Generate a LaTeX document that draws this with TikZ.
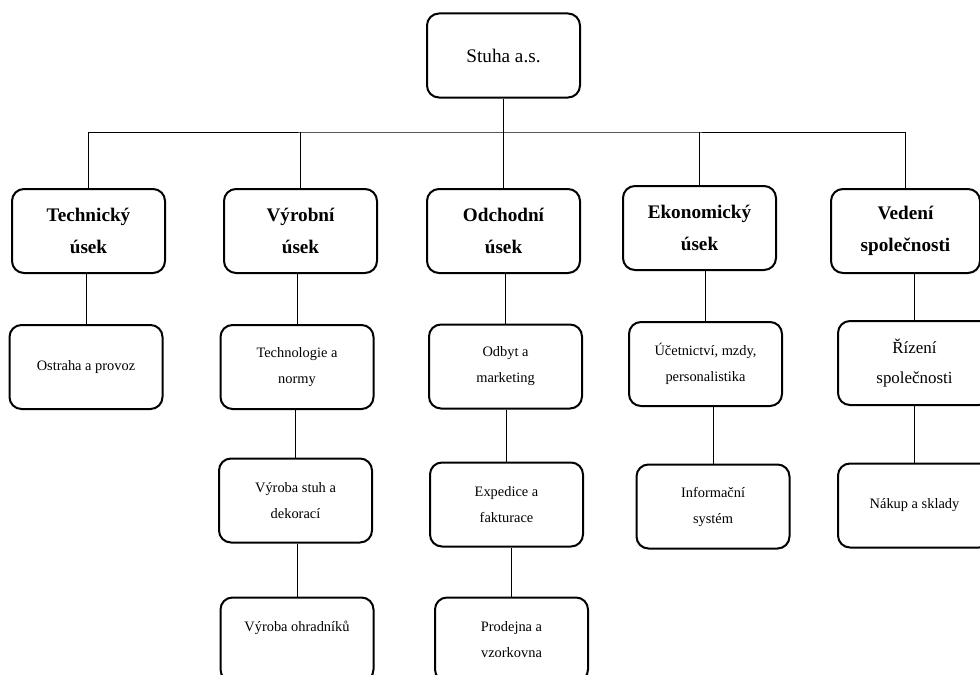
\documentclass[tikz,border=0pt]{standalone}
\usepackage{fontspec}
\setmainfont{Liberation Serif}
\usepackage{tikz}
\newcommand{\smalltext}{\fontsize{10.8}{19.5}\selectfont}
\newcommand{\midtext}{\fontsize{12.7}{22.5}\selectfont}
\newcommand{\bigtext}{\fontsize{14.4}{24}\selectfont}

\begin{document}
\begin{tikzpicture}[x=0.75pt,y=-0.75pt,
    unit/.style={draw,line width=1.5pt,rounded corners=9pt,align=center,
        minimum width=114.75pt,minimum height=63pt,inner sep=2pt},
    dept/.style={unit,font=\bigtext\bfseries},
    office/.style={unit,font=\smalltext},
    link/.style={line width=0.7pt}]
    % page size
    \useasboundingbox (0,0) rectangle (980,674);
    \clip (0,0) rectangle (980,674);

    % draw top box
    \node[unit,font=\bigtext] (stuha) at (503.5,55.5) {Stuha a.s.};

    % draw departments
    \node[dept] (tech) at (88.5,231) {Technický\\úsek};
    \node[dept] (vyr) at (300.5,231) {Výrobní\\úsek};
    \node[dept] (odch) at (503.5,231) {Odchodní\\úsek};
    \node[dept] (ekon) at (699.5,228) {Ekonomický\\úsek};
    \node[dept,minimum width=111.75pt] (ved) at (905.5,231) {Vedení\\společnosti};

    % draw offices
    \node[office] (ostraha) at (86,367) {Ostraha a provoz};
    \node[office] (techn) at (297,367) {Technologie a\\normy};
    \node[office] (odbyt) at (505.5,366.5) {Odbyt a\\marketing};
    \node[office] (ucet) at (705.5,364) {Účetnictví, mzdy,\\personalistika};
    \node[office,font=\midtext] (rizeni) at (914.5,363) {Řízení\\společnosti};

    \node[office] (stuhy) at (295.5,500.5) {Výroba stuh a\\dekorací};
    \node[office] (exped) at (506.5,504.5) {Expedice a\\fakturace};
    \node[office] (infor) at (713,506.5) {Informační\\systém};
    \node[office] (nakup) at (914.5,505.5) {Nákup a sklady};

    \node[office] (ohrad) at (297,639.5) {Výroba ohradníků\\ \mbox{}};
    \node[office] (prodej) at (511.5,639.5) {Prodejna a\\vzorkovna};

    % draw connectors
    \coordinate (bar) at (503.5,132);
    \draw[link] (stuha) -- (odch);
    \draw[link] (tech.north) |- (bar) -| (ved.north);
    \foreach \d in {vyr,ekon}
    \draw[link] (\d.north) -- (\d.north |- bar);
    \foreach \a/\b in {tech/ostraha,vyr/techn,techn/stuhy,stuhy/ohrad,odch/odbyt,odbyt/exped,exped/prodej,ekon/ucet,ucet/infor,ved/rizeni,rizeni/nakup}
    \draw[link] (\b.north) -- (\b.north |- \a.south);
\end{tikzpicture}
\end{document}
